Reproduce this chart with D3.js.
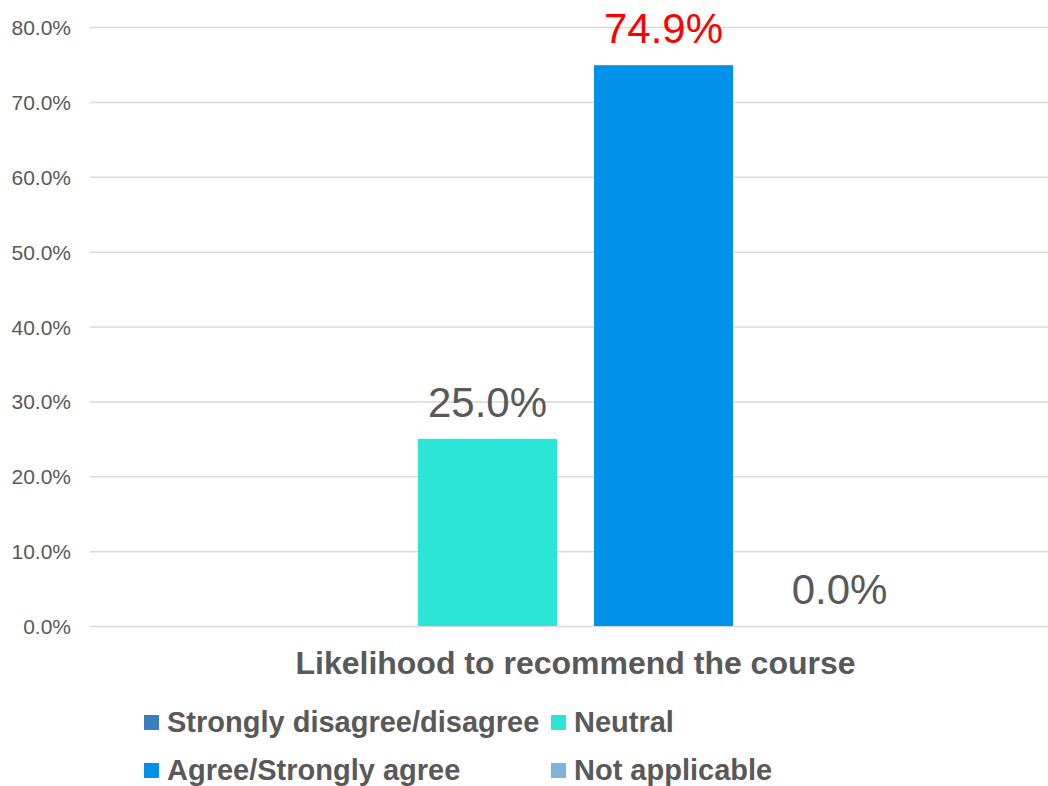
<!DOCTYPE html>
<html>
<head>
<meta charset="utf-8">
<script src="https://cdn.jsdelivr.net/npm/d3@7"></script>
<style>
  html, body { margin: 0; padding: 0; background: #fff; }
  svg { display: block; }
  text { font-family: "Liberation Sans", Arial, sans-serif; }
</style>
</head>
<body>
<svg id="chart" width="1048" height="786"></svg>
<script>
// Survey result: one question, four response groups
const categories = ["Likelihood to recommend the course"];
const seriesNames = ["Strongly disagree/disagree", "Neutral", "Agree/Strongly agree", "Not applicable"];
const seriesValues = [null, 25.0, 74.9, 0.0];
const seriesColors = ["#3b7dbf", "#2be6d6", "#0091ea", "#80b3da"];
const labelColors = ["#595959", "#595959", "#ff0000", "#595959"];
const yTicks = [0, 10, 20, 30, 40, 50, 60, 70, 80];

const svg = d3.select("#chart");
const plot = { left: 90, right: 1048, top: 27, bottom: 626 };

const y = d3.scaleLinear().domain([0, 80]).range([plot.bottom, plot.top]);

// category band over the plot, series bands inside it
const x0 = d3.scaleBand().domain(categories).range([plot.left, plot.right]);
const x1 = d3.scaleBand().domain(seriesNames)
  .range([223.5 - plot.left, 927.5 - plot.left])
  .paddingInner(0.21).paddingOuter(0.105);

// gridlines + tick labels
const yAxis = d3.axisLeft(y).tickValues(yTicks)
  .tickSize(-(plot.right - plot.left)).tickPadding(19)
  .tickFormat(d => d.toFixed(1) + "%");
const gy = svg.append("g").attr("transform", `translate(${plot.left},0)`).call(yAxis);
gy.select(".domain").remove();
gy.selectAll(".tick line").attr("stroke", "#d9d9d9").attr("stroke-width", 1.5);
gy.selectAll(".tick text").attr("fill", "#595959").attr("font-size", 21)
  .attr("dy", "0.36em");

// bars
const data = seriesNames.map((s, i) => ({ s, v: seriesValues[i], c: seriesColors[i], lc: labelColors[i] }));
const g = svg.append("g").attr("transform", `translate(${x0(categories[0])},0)`);
g.selectAll("rect").data(data.filter(d => d.v !== null)).join("rect")
  .attr("x", d => x1(d.s))
  .attr("width", x1.bandwidth())
  .attr("y", d => y(d.v))
  .attr("height", d => y(0) - y(d.v))
  .attr("fill", d => d.c);

// value labels above bars
g.selectAll("text.val").data(data.filter(d => d.v !== null)).join("text")
  .attr("class", "val")
  .attr("x", d => x1(d.s) + x1.bandwidth() / 2)
  .attr("y", d => y(d.v) - 22)
  .attr("text-anchor", "middle")
  .attr("font-size", 42)
  .attr("fill", d => d.lc)
  .text(d => d.v.toFixed(1) + "%");

// category label
svg.append("text")
  .attr("x", 575.5).attr("y", 674)
  .attr("text-anchor", "middle")
  .attr("font-size", 32).attr("font-weight", "bold")
  .attr("fill", "#595959")
  .text(categories[0]);

// legend, two columns
const legendPos = [[144, 715], [551, 715], [144, 763], [551, 763]];
const lg = svg.append("g");
data.forEach((d, i) => {
  const [lx, ly] = legendPos[i];
  lg.append("rect").attr("x", lx).attr("y", ly).attr("width", 15).attr("height", 15).attr("fill", d.c);
  lg.append("text").attr("x", lx + 23).attr("y", ly + 17)
    .attr("font-size", 29).attr("font-weight", "bold").attr("fill", "#595959")
    .text(d.s);
});
</script>
</body>
</html>
